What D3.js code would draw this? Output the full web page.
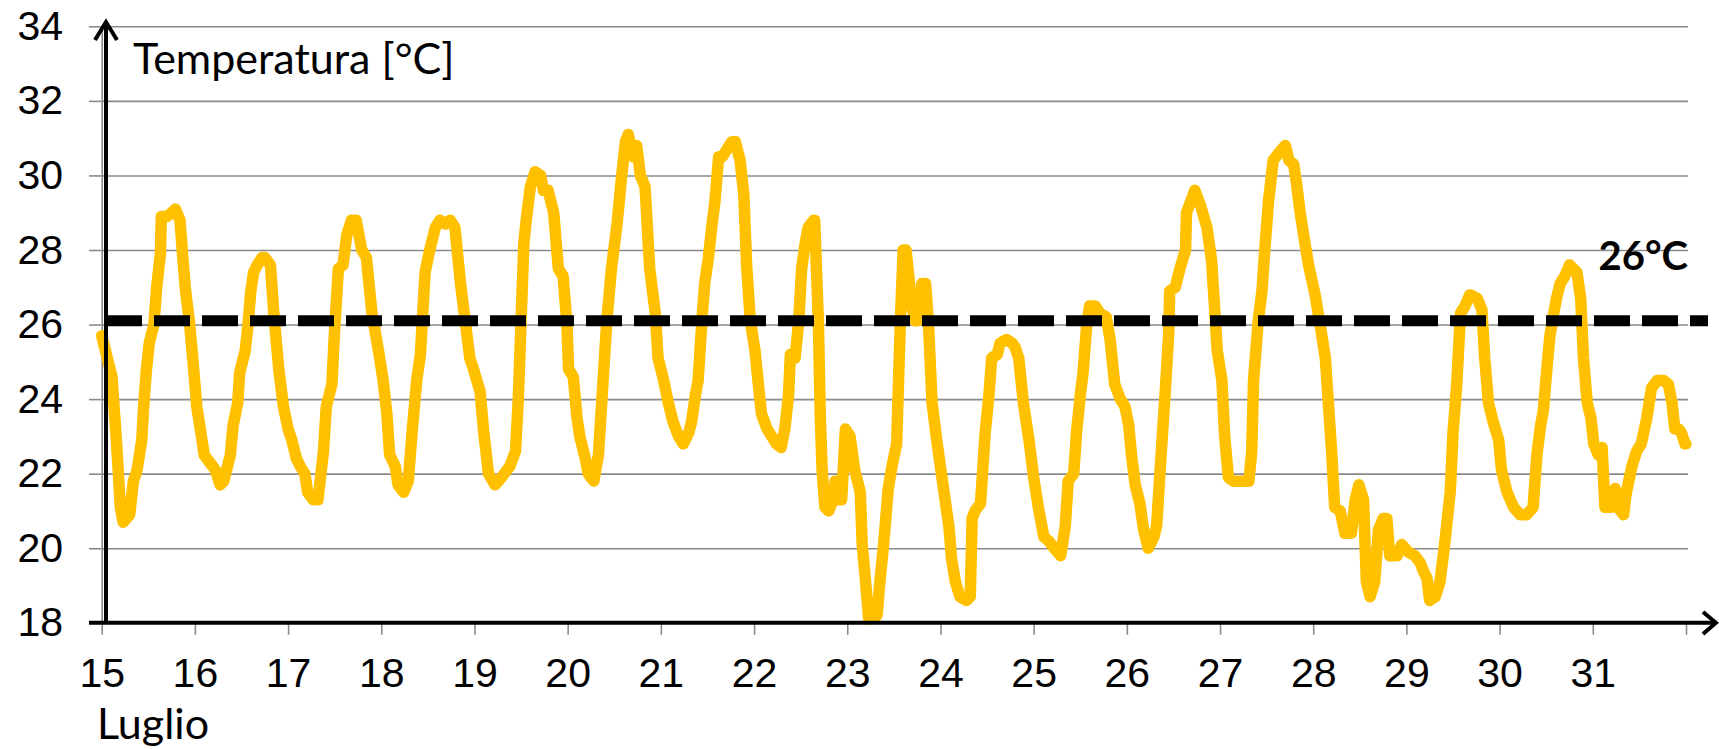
<!DOCTYPE html>
<html>
<head>
<meta charset="utf-8">
<script src="https://cdn.jsdelivr.net/npm/d3@7"></script>
<style>
	body { margin: 0; background: #fff; }
	#graphic { width: 1719px; height: 749px; }
	.tick text { font-family: "Liberation Sans", Arial, sans-serif; font-size: 41px; fill: #000; }
	.label { font-family: Lato, "Open Sans", sans-serif; fill: #000; }
</style>
</head>
<body>
<div id="graphic"></div>
<script>
// day of July (decimal) and temperature in °C
const times = [
	15.00, 15.11, 15.16, 15.20, 15.23, 15.30, 15.34, 15.38, 15.43, 15.45, 15.48, 15.51, 15.56, 15.59, 15.63, 15.64,
	15.70, 15.75, 15.79, 15.84, 15.87, 15.90, 15.94, 15.98, 16.02, 16.07, 16.10, 16.16, 16.22, 16.27, 16.31, 16.38,
	16.41, 16.46, 16.48, 16.54, 16.57, 16.60, 16.63, 16.67, 16.72, 16.75, 16.81, 16.85, 16.90, 16.95, 17.00, 17.04,
	17.09, 17.13, 17.18, 17.21, 17.27, 17.32, 17.38, 17.41, 17.47, 17.50, 17.54, 17.59, 17.63, 17.68, 17.73, 17.79,
	17.84, 17.90, 17.97, 18.02, 18.06, 18.09, 18.15, 18.18, 18.24, 18.29, 18.33, 18.38, 18.42, 18.47, 18.52, 18.58,
	18.63, 18.69, 18.74, 18.79, 18.85, 18.92, 18.95, 18.99, 19.06, 19.10, 19.15, 19.22, 19.29, 19.38, 19.44, 19.47,
	19.50, 19.53, 19.56, 19.60, 19.65, 19.71, 19.74, 19.79, 19.85, 19.90, 19.95, 19.99, 20.01, 20.06, 20.10, 20.13,
	20.19, 20.22, 20.28, 20.33, 20.37, 20.42, 20.47, 20.53, 20.58, 20.62, 20.65, 20.70, 20.74, 20.78, 20.83, 20.88,
	20.94, 20.97, 21.03, 21.08, 21.13, 21.19, 21.24, 21.30, 21.33, 21.37, 21.40, 21.44, 21.47, 21.51, 21.55, 21.58,
	21.62, 21.66, 21.71, 21.76, 21.80, 21.85, 21.89, 21.92, 21.96, 22.01, 22.05, 22.08, 22.14, 22.19, 22.24, 22.29,
	22.33, 22.37, 22.39, 22.44, 22.48, 22.51, 22.55, 22.58, 22.64, 22.65, 22.69, 22.71, 22.73, 22.76, 22.80, 22.85,
	22.87, 22.91, 22.94, 22.98, 23.03, 23.08, 23.14, 23.16, 23.19, 23.23, 23.26, 23.32, 23.35, 23.39, 23.44, 23.48,
	23.53, 23.57, 23.60, 23.63, 23.66, 23.69, 23.73, 23.76, 23.80, 23.84, 23.87, 23.91, 23.96, 24.01, 24.05, 24.09,
	24.12, 24.16, 24.21, 24.28, 24.32, 24.34, 24.37, 24.43, 24.48, 24.52, 24.55, 24.61, 24.64, 24.71, 24.77, 24.80,
	24.84, 24.89, 24.95, 25.00, 25.05, 25.11, 25.16, 25.22, 25.29, 25.34, 25.37, 25.43, 25.46, 25.50, 25.53, 25.57,
	25.60, 25.66, 25.71, 25.78, 25.82, 25.87, 25.93, 25.98, 26.02, 26.05, 26.09, 26.14, 26.18, 26.23, 26.29, 26.32,
	26.37, 26.41, 26.45, 26.46, 26.52, 26.57, 26.63, 26.64, 26.70, 26.73, 26.79, 26.86, 26.91, 26.97, 27.02, 27.05,
	27.09, 27.14, 27.23, 27.31, 27.34, 27.36, 27.41, 27.45, 27.48, 27.52, 27.57, 27.63, 27.70, 27.74, 27.79, 27.82,
	27.86, 27.91, 27.95, 28.02, 28.08, 28.13, 28.20, 28.23, 28.29, 28.34, 28.41, 28.45, 28.49, 28.54, 28.57, 28.61,
	28.66, 28.70, 28.75, 28.79, 28.82, 28.90, 28.95, 29.02, 29.09, 29.15, 29.18, 29.22, 29.25, 29.31, 29.36, 29.41,
	29.47, 29.50, 29.54, 29.58, 29.63, 29.68, 29.76, 29.81, 29.84, 29.88, 29.93, 29.99, 30.02, 30.08, 30.15, 30.22,
	30.29, 30.36, 30.40, 30.44, 30.47, 30.51, 30.54, 30.58, 30.61, 30.65, 30.70, 30.75, 30.79, 30.83, 30.87, 30.90,
	30.94, 30.98, 31.01, 31.06, 31.10, 31.13, 31.20, 31.24, 31.27, 31.33, 31.36, 31.42, 31.47, 31.52, 31.58, 31.63,
	31.69, 31.76, 31.81, 31.85, 31.88, 31.92, 31.95, 31.99, 32.00
];

const temps = [
	25.7, 24.6, 22.8, 21.1, 20.7, 20.9, 21.8, 22.1, 22.9, 23.8, 24.8, 25.5, 26.0, 27.0, 27.9, 28.9,
	28.9, 29.0, 29.1, 28.8, 27.8, 26.9, 26.1, 25.0, 23.8, 23.0, 22.5, 22.3, 22.1, 21.7, 21.8, 22.5,
	23.3, 23.9, 24.7, 25.3, 26.0, 26.9, 27.4, 27.6, 27.8, 27.8, 27.6, 26.2, 24.8, 23.8, 23.2, 22.9,
	22.4, 22.2, 22.0, 21.5, 21.3, 21.3, 22.6, 23.8, 24.4, 25.9, 27.5, 27.6, 28.4, 28.8, 28.8, 28.0,
	27.8, 26.3, 25.3, 24.5, 23.6, 22.5, 22.2, 21.7, 21.5, 21.8, 23.1, 24.5, 25.2, 27.4, 28.0, 28.6,
	28.8, 28.7, 28.8, 28.6, 27.1, 25.7, 25.1, 24.8, 24.2, 23.1, 22.0, 21.7, 21.9, 22.2, 22.6, 24.0,
	26.1, 28.2, 28.9, 29.7, 30.1, 30.0, 29.6, 29.6, 29.0, 27.5, 27.3, 26.1, 24.8, 24.6, 23.5, 23.0,
	22.4, 22.0, 21.8, 22.5, 24.1, 26.1, 27.5, 28.7, 30.0, 30.9, 31.1, 30.5, 30.8, 30.0, 29.7, 27.5,
	26.3, 25.1, 24.5, 23.9, 23.4, 23.0, 22.8, 23.1, 23.4, 24.1, 24.5, 26.1, 27.1, 27.8, 28.7, 29.3,
	30.5, 30.5, 30.7, 30.9, 30.9, 30.4, 29.5, 27.6, 26.1, 25.3, 24.3, 23.6, 23.2, 23.0, 22.8, 22.7,
	23.2, 24.1, 25.2, 25.1, 26.1, 27.5, 28.2, 28.6, 28.8, 28.8, 26.1, 23.6, 22.1, 21.1, 21.0, 21.3,
	21.8, 21.3, 21.3, 23.2, 23.0, 22.1, 21.5, 20.1, 19.3, 18.1, 18.1, 18.2, 19.1, 20.1, 21.6, 22.2,
	22.8, 26.1, 28.0, 28.0, 27.3, 26.5, 26.1, 26.1, 27.1, 27.1, 26.1, 23.9, 22.9, 22.0, 21.3, 20.6,
	19.7, 19.1, 18.7, 18.6, 18.7, 20.8, 21.0, 21.2, 23.1, 24.1, 25.1, 25.2, 25.5, 25.6, 25.5, 25.4,
	25.1, 23.9, 22.9, 21.9, 21.1, 20.3, 20.2, 20.0, 19.8, 20.6, 21.8, 22.0, 23.1, 24.1, 24.7, 26.0,
	26.5, 26.5, 26.3, 26.2, 25.6, 24.4, 24.0, 23.8, 23.3, 22.5, 21.7, 21.2, 20.5, 20.0, 20.3, 20.6,
	22.6, 24.1, 25.8, 26.9, 27.0, 27.5, 28.0, 29.0, 29.4, 29.6, 29.2, 28.6, 27.7, 25.3, 24.5, 23.0,
	21.9, 21.8, 21.8, 21.8, 22.6, 24.5, 26.1, 26.9, 28.0, 29.3, 30.4, 30.6, 30.8, 30.4, 30.3, 29.8,
	29.0, 28.2, 27.6, 26.8, 25.9, 25.1, 22.5, 21.1, 21.0, 20.4, 20.4, 21.3, 21.7, 21.3, 19.1, 18.7,
	19.1, 20.5, 20.8, 20.8, 19.8, 19.8, 20.1, 19.9, 19.8, 19.6, 19.4, 19.2, 18.6, 18.7, 19.1, 20.1,
	21.5, 23.1, 24.4, 26.3, 26.5, 26.8, 26.7, 26.4, 25.1, 23.9, 23.4, 22.9, 22.1, 21.5, 21.1, 20.9,
	20.9, 21.1, 22.5, 23.3, 23.7, 24.9, 25.7, 26.3, 26.7, 27.1, 27.3, 27.6, 27.5, 27.4, 26.7, 25.1,
	23.9, 23.5, 22.8, 22.5, 22.7, 21.1, 21.1, 21.6, 21.1, 20.9, 21.5, 22.2, 22.6, 22.8, 23.5, 24.3,
	24.5, 24.5, 24.4, 23.9, 23.2, 23.2, 23.1, 22.8, 22.8
];

const dayTicks = d3.range(15, 33);          // 15 .. 32, last tick unlabelled
const tempTicks = [18, 20, 22, 24, 26, 28, 30, 32, 34];
const threshold = 26.1;

const yAxisLabel = 'Temperatura [°C]';
const xAxisLabel = 'Luglio';
const thresholdLabel = '26°C';

const graphicData = times.map((t, i) => ({ day: t, temp: temps[i] }));

function drawGraphic() {
	const width = 1719, height = 749;

	// plot area in pixels
	const left = 101.7, right = 1686, top = 26.3, bottom = 622.8;
	const gridLeft = 89, gridRight = 1688;

	const x = d3.scaleLinear().domain([15, 32]).range([left, right]);
	const y = d3.scaleLinear().domain([18, 34]).range([bottom, top]);

	const svg = d3.select('#graphic')
		.append('svg')
		.attr('width', width)
		.attr('height', height);

	// grid lines
	svg.append('g')
		.attr('class', 'grid')
		.attr('transform', `translate(${left},0)`)
		.call(d3.axisLeft(y).tickValues(tempTicks).tickSize(-(gridRight - left)).tickSizeOuter(0).tickFormat(''))
		.call(g => g.select('.domain').remove())
		.selectAll('line')
		.attr('stroke', '#8a8a8a')
		.attr('stroke-width', 1.6);

	// y axis (grey) with labels
	svg.append('g')
		.attr('class', 'y axis')
		.attr('transform', `translate(${left},0)`)
		.call(d3.axisLeft(y).tickValues(tempTicks).tickSize(left - gridLeft).tickSizeOuter(0).tickPadding(26))
		.call(g => g.select('.domain').attr('stroke', '#8a8a8a').attr('stroke-width', 1.6))
		.call(g => g.selectAll('.tick line').attr('stroke', '#8a8a8a').attr('stroke-width', 1.6));

	// x axis: grey ticks below, labels on the day boundaries
	svg.append('g')
		.attr('class', 'x axis')
		.attr('transform', `translate(0,${bottom})`)
		.call(d3.axisBottom(x).tickValues(dayTicks).tickSize(12).tickSizeOuter(0).tickPadding(23)
			.tickFormat(d => d < 32 ? d : ''))
		.call(g => g.select('.domain').remove())
		.call(g => g.selectAll('.tick line').attr('stroke', '#8a8a8a').attr('stroke-width', 1.6));

	// temperature line
	const line = d3.line()
		.x(d => x(d.day))
		.y(d => y(d.temp));

	svg.append('path')
		.datum(graphicData)
		.attr('fill', 'none')
		.attr('stroke', '#ffc000')
		.attr('stroke-width', 11.5)
		.style('stroke-linejoin', 'round')
		.style('stroke-linecap', 'round')
		.attr('d', line);

	// 26°C threshold
	svg.append('line')
		.attr('x1', 106)
		.attr('x2', 1708)
		.attr('y1', y(threshold))
		.attr('y2', y(threshold))
		.attr('stroke', '#000')
		.attr('stroke-width', 11)
		.attr('stroke-dasharray', '36,12');

	svg.append('text')
		.attr('class', 'label')
		.attr('x', gridRight)
		.attr('y', 270)
		.attr('text-anchor', 'end')
		.style('font-size', '40px')
		.style('font-weight', 'bold')
		.text(thresholdLabel);

	// black arrow axes drawn over the chart
	const arrows = svg.append('g')
		.attr('fill', 'none')
		.attr('stroke', '#000')
		.attr('stroke-width', 4);

	arrows.append('line').attr('x1', gridLeft).attr('x2', 1716).attr('y1', bottom).attr('y2', bottom);
	arrows.append('polyline').attr('points', `1703,612 1716,${bottom} 1703,634`);

	arrows.append('line').attr('x1', 106).attr('x2', 106).attr('y1', bottom).attr('y2', 22);
	arrows.append('polyline').attr('points', '95,40 106,22 117,40');

	// axis titles
	svg.append('text')
		.attr('class', 'label')
		.attr('x', 133)
		.attr('y', 74)
		.style('font-size', '43px')
		.text(yAxisLabel);

	svg.append('text')
		.attr('class', 'label')
		.attr('x', 97)
		.attr('y', 739)
		.style('font-size', '43px')
		.text(xAxisLabel);
}

drawGraphic();
</script>
</body>
</html>
